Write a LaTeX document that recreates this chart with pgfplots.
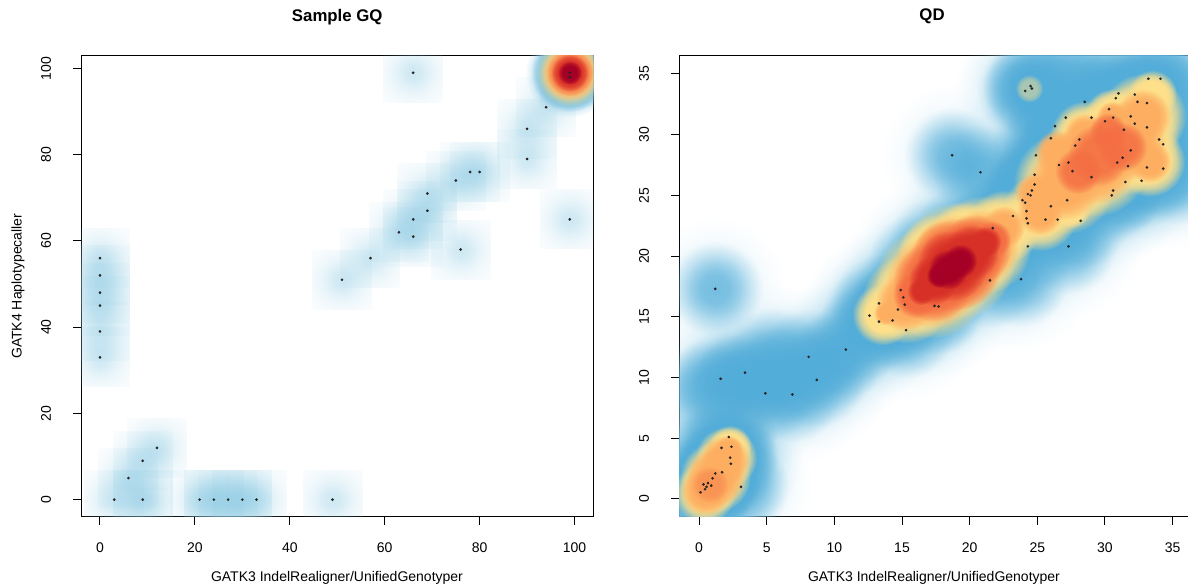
\documentclass[border=0pt]{standalone}
\usepackage{fontspec}
\setmainfont{Liberation Sans}
\usepackage{pgfplots}
\usepackage{pgfplotstable}
\pgfplotsset{compat=1.18}
\usetikzlibrary{fadings}

\pgfdeclareradialshading{softshade}{\pgfpointorigin}{color(0bp)=(white); color(10bp)=(white!85!black); color(20bp)=(white!55!black); color(30bp)=(white!28!black); color(40bp)=(white!10!black); color(50bp)=(black)}
\pgfdeclarefading{softfade}{\pgfuseshading{softshade}}
\pgfdeclareradialshading{medshade}{\pgfpointorigin}{color(0bp)=(white); color(15bp)=(white!92!black); color(25bp)=(white!68!black); color(35bp)=(white!36!black); color(45bp)=(white!10!black); color(50bp)=(black)}
\pgfdeclarefading{medfade}{\pgfuseshading{medshade}}
\pgfdeclareradialshading{platshade}{\pgfpointorigin}{color(0bp)=(white); color(28bp)=(white); color(38bp)=(white!70!black); color(45bp)=(white!30!black); color(50bp)=(black)}
\pgfdeclarefading{platfade}{\pgfuseshading{platshade}}
\pgfdeclareradialshading{sqshade}{\pgfpointorigin}{color(0bp)=(white); color(9bp)=(white!85!black); color(18bp)=(white!58!black); color(27bp)=(white!36!black); color(35bp)=(white!22!black); color(50bp)=(white!8!black)}
\pgfdeclarefading{sqfade}{\pgfuseshading{sqshade}}

\pgfdeclareplotmark{sblob}{\pgfscope\pgfpathcircle{\pgfpointorigin}{\pgfplotmarksize}\pgfsetfadingforcurrentpath{softfade}{\pgftransformscale{0.5}}\pgfusepath{fill}\endpgfscope}
\pgfdeclareplotmark{mblob}{\pgfscope\pgfpathcircle{\pgfpointorigin}{\pgfplotmarksize}\pgfsetfadingforcurrentpath{medfade}{\pgftransformscale{0.5}}\pgfusepath{fill}\endpgfscope}
\pgfdeclareplotmark{pblob}{\pgfscope\pgfpathcircle{\pgfpointorigin}{\pgfplotmarksize}\pgfsetfadingforcurrentpath{platfade}{\pgftransformscale{0.5}}\pgfusepath{fill}\endpgfscope}
\pgfdeclareplotmark{qblob}{\pgfscope\pgfpathrectangle{\pgfpoint{-\pgfplotmarksize}{-\pgfplotmarksize}}{\pgfpoint{2\pgfplotmarksize}{2\pgfplotmarksize}}\pgfsetfadingforcurrentpath{sqfade}{\pgftransformscale{0.71}}\pgfusepath{fill}\endpgfscope}

\definecolor{cpale}{HTML}{9DD3EA}
\definecolor{csq}{HTML}{8FCBE3}
\definecolor{cltb}{HTML}{9BD0E6}
\definecolor{cblue}{HTML}{52ADD9}
\definecolor{cyel}{HTML}{FEE08B}
\definecolor{corl}{HTML}{FDAE61}
\definecolor{cor}{HTML}{F46D43}
\definecolor{cred}{HTML}{D73027}
\definecolor{cdred}{HTML}{A50026}

\pgfplotsset{
  rbase/.style={
    scale only axis, clip marker paths=true,
    axis line style={line width=0.5pt},
    tick align=outside, tick pos=left,
    major tick length=4pt,
    every tick/.style={black, line width=0.5pt},
    tick label style={font=\fontsize{7}{8.4}\selectfont},
    /pgf/number format/assume math mode=true,
    yticklabel style={rotate=90, anchor=south},
    xticklabel shift=5.5pt, yticklabel shift=7.5pt,
    label style={font=\fontsize{7}{8.4}\selectfont},
    title style={font=\bfseries\fontsize{8.4}{10}\selectfont, anchor=center},
    xlabel style={anchor=center},
    ylabel style={anchor=center},
  },
  blob/.style n args={3}{only marks, scatter, mark=#1,
    scatter/use mapped color={draw=none, fill=#2},
    visualization depends on={\thisrow{r}*#3 \as \msize},
    scatter/@pre marker code/.append style={/tikz/mark size=\msize}},
}

\pgfplotstableread{
x y
0 56
0 52
0 48
0 45
0 39
0 33
3 0
9 0
6 5
9 9
12 12
21 0
24 0
27 0
30 0
33 0
49 0
51 51
57 56
63 62
66 65
66 61
69 67
69 71
66 99
75 74
78 76
80 76
76 58
90 86
90 79
94 91
99 65
99 99
99 98
}\ptsL

\pgfplotstableread{
x y
24.5 34.0
24.1 33.6
24.6 33.8
33.2 34.6
34.1 34.6
31.0 33.4
32.2 33.3
30.8 33.0
32.4 32.7
33.1 32.6
28.5 32.7
30.3 32.1
31.9 31.5
27.1 31.4
29.0 31.4
30.0 31.1
30.6 31.4
32.2 30.9
26.3 30.7
33.1 30.6
31.4 30.4
26.0 29.7
28.1 29.6
34.0 29.6
27.8 29.1
34.3 29.2
31.9 28.7
24.9 28.3
31.3 28.1
30.9 27.7
27.3 27.7
26.6 27.5
31.7 27.4
33.1 27.3
34.3 27.2
27.6 27.0
24.8 26.7
29.0 26.5
24.8 25.9
31.5 26.1
32.7 26.2
24.6 25.4
24.3 25.1
24.5 25.0
30.6 25.4
30.5 25.0
23.9 24.6
24.1 24.4
26.0 24.1
27.2 24.6
24.2 23.7
23.2 23.3
24.2 23.1
25.6 23.0
26.5 23.0
28.2 22.9
24.3 22.7
21.7 22.3
24.3 20.8
27.3 20.8
21.5 18.0
23.8 18.1
18.7 28.3
20.8 26.9
12.6 15.1
13.3 16.1
13.3 14.6
14.3 14.7
14.7 15.6
15.2 16.0
15.3 13.9
14.9 17.2
15.1 16.6
17.4 15.9
17.7 15.85
10.85 12.3
8.1 11.7
8.7 9.8
3.4 10.4
1.6 9.9
4.9 8.7
6.9 8.6
1.2 17.3
2.2 5.1
1.66 4.2
2.4 4.3
2.3 3.4
2.35 2.9
1.7 2.2
1.2 2.1
1.0 1.7
3.1 1.0
0.33 1.2
0.66 1.3
0.55 1.0
0.9 1.1
0.44 0.8
0.11 0.55
}\ptsR

\pgfplotstableread{
x y
16.5 18.5
18.0 19.8
19.5 21.0
17.0 17.0
18.5 18.0
20.0 19.5
21.0 21.5
22.5 22.8
19.5 22.0
16.0 19.5
17.5 21.0
22.0 20.0
25.5 26.5
27.0 28.5
28.5 29.5
29.5 28.0
30.0 26.5
28.0 26.0
32.5 29.5
35.3 31.0
35.3 34.0
35.3 26.5
29.0 34.5
26.5 34.8
3.0 9.5
6.0 10.2
9.8 11.2
0.3 9.0
5.5 11.8
12.0 13.6
0.5 3.5
}\hidR

\begin{document}
\begin{tikzpicture}
\path[use as bounding box] (0,0) rectangle (594pt,294pt);
% ---------------- left panel ----------------
\begin{axis}[rbase, at={(40.5pt,35.65pt)}, anchor=south west,
  width=256.25pt, height=230.5pt,
  xmin=-4, xmax=104, ymin=-3.96, ymax=102.96,
  xtick={0,20,...,100}, ytick={0,20,...,100},
  title={Sample GQ}, title style={at={(axis description cs:0.5,1.0586)}},
  xlabel={GATK3 IndelRealigner/UnifiedGenotyper},
  xlabel style={at={(axis description cs:0.4995,-0.1323)}},
  ylabel={GATK4 Haplotypecaller},
  ylabel style={at={(axis description cs:-0.1229,0.5)}}]
\addplot[only marks, mark=qblob, mark size=15pt, color=csq, fill opacity=0.45] table {\ptsL};
\addplot[only marks, mark=qblob, mark size=15pt, color=csq, fill opacity=0.45] table {
x y
9 0
24 0
30 0
};
\addplot[blob={pblob}{cltb}{2.72}, fill opacity=0.8] table {
x y r
99 99 8.2
};
\addplot[blob={pblob}{cblue}{2.72}, fill opacity=0.85] table {
x y r
99 99 7.2
};
\addplot[blob={pblob}{cyel}{2.72}] table {
x y r
99 99 6.2
};
\addplot[blob={pblob}{corl}{2.72}] table {
x y r
99 99 5.2
};
\addplot[blob={pblob}{cor}{2.72}] table {
x y r
99 99 4.3
};
\addplot[blob={pblob}{cred}{2.72}] table {
x y r
99 99 3.4
};
\addplot[blob={pblob}{cdred}{2.72}] table {
x y r
99 99 2.2
};
\addplot[only marks, mark=*, mark size=0.45pt, color=black!85] table {\ptsL};
\end{axis}
% ---------------- right panel ----------------
\begin{axis}[rbase, at={(339.5pt,35.65pt)}, anchor=south west,
  width=270.5pt, height=230.5pt,
  xmin=-1.48, xmax=38.5, ymin=-1.46, ymax=36.5,
  xtick={0,5,...,35}, ytick={0,5,...,35},
  title={QD}, title style={at={(axis description cs:0.4677,1.0586)}},
  xlabel={GATK3 IndelRealigner/UnifiedGenotyper},
  xlabel style={at={(axis description cs:0.4713,-0.1323)}}]
\addplot[only marks, mark=sblob, mark size=36pt, color=cpale, fill opacity=0.5] table {\ptsR};
\addplot[only marks, mark=sblob, mark size=36pt, color=cpale, fill opacity=0.5] table {\hidR};
\addplot[only marks, mark=mblob, mark size=24pt, color=cblue, fill opacity=0.72] table {\ptsR};
\addplot[only marks, mark=mblob, mark size=24pt, color=cblue, fill opacity=0.72] table {\hidR};
% yellow
\addplot[blob={pblob}{cyel}{7.7}] table {
x y r
0.4 0.5 2.0
1.2 1.8 2.3
2.0 3.4 2.0
2.3 4.3 1.4
13.6 15.2 2.0
15.4 16.5 2.9
17.2 17.9 3.7
19.0 19.6 3.8
20.9 20.9 3.2
17.6 20.2 2.6
19.6 21.6 2.3
22.5 22.4 2.4
25.2 23.6 2.5
27.0 26.0 3.3
29.2 27.8 3.6
31.5 29.5 3.5
32.8 31.5 2.8
33.5 33.3 1.6
33.3 27.8 2.3
28.5 30.0 2.2
30.5 31.5 1.8
27.5 23.8 1.2
};
\addplot[blob={pblob}{cyel}{7.7}, fill opacity=0.5] table {
x y r
24.4 33.8 0.9
};
% light orange
\addplot[blob={pblob}{corl}{7.7}] table {
x y r
0.5 0.7 1.6
1.2 1.8 1.9
1.9 3.2 1.6
2.2 4.1 0.9
13.8 15.3 0.8
15.2 16.2 1.9
17.2 17.9 3.0
19.0 19.5 3.1
20.9 20.8 2.4
18.0 20.6 1.8
22.5 22.4 1.4
25.2 23.6 1.5
24.8 25.2 1.3
27.0 26.0 2.4
26.5 28.5 1.5
29.2 27.8 2.8
31.5 29.5 2.6
32.8 31.5 1.8
33.3 27.8 1.4
28.5 30.0 1.4
30.5 31.5 1.0
};
% orange-red
\addplot[blob={pblob}{cor}{7.7}] table {
x y r
16.0 16.8 1.5
17.3 17.9 2.6
18.9 19.3 3.0
20.4 20.5 2.3
21.7 21.4 1.2
18.0 20.3 1.4
};
\addplot[blob={pblob}{cor}{7.7}, fill opacity=0.85] table {
x y r
29.5 28.3 2.0
31.3 29.0 1.6
28.0 27.0 1.5
30.2 30.3 1.2
};
\addplot[blob={pblob}{cor}{7.7}, fill opacity=0.4] table {
x y r
0.8 1.2 1.2
};
% red
\addplot[blob={pblob}{cred}{7.7}] table {
x y r
16.4 17.1 0.9
17.3 18.0 1.6
18.7 19.2 2.3
20.1 20.3 1.8
21.2 21.2 1.0
};
\addplot[blob={pblob}{cdred}{7.7}] table {
x y r
17.7 18.4 0.8
18.4 18.9 1.3
19.3 19.6 1.1
};
\addplot[only marks, mark=*, mark size=0.45pt, color=black!85] table {\ptsR};
\end{axis}
\end{tikzpicture}
\end{document}
